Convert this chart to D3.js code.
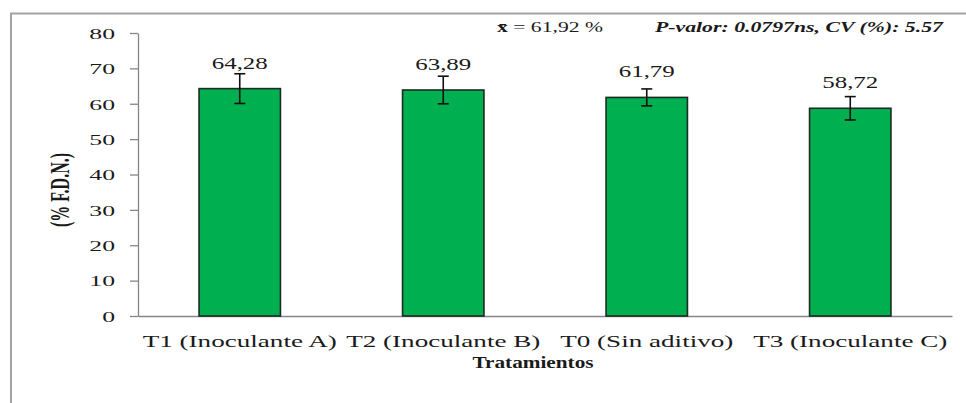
<!DOCTYPE html>
<html>
<head>
<meta charset="utf-8">
<script src="https://cdn.jsdelivr.net/npm/d3@7/dist/d3.min.js"></script>
<style>
  html, body { margin: 0; padding: 0; background: #fff; }
  svg { display: block; }
  text { font-family: "Liberation Serif", "Times New Roman", serif; fill: #1a1a1a; }
</style>
</head>
<body>
<svg id="chart" width="966" height="403"></svg>
<script>
// ---- data ----
const categories = ["T1 (Inoculante A)", "T2 (Inoculante B)", "T0 (Sin aditivo)", "T3 (Inoculante C)"];
const values = [64.28, 63.89, 61.79, 58.72];
const errors = [4.2, 3.9, 2.4, 3.3];
const valueLabels = ["64,28", "63,89", "61,79", "58,72"];
const yTicks = [0, 10, 20, 30, 40, 50, 60, 70, 80];
const yTitle = "(% F.D.N.)";
const xTitle = "Tratamientos";
const meanSymbol = "x\u0304";
const meanText = " = 61,92 %";
const statsText = "P-valor: 0.0797ns, CV (%): 5.57";

// ---- layout ----
const svg = d3.select("#chart");

const x = d3.scaleBand().domain(categories).range([138, 952]).paddingInner(0.6).paddingOuter(0.3);
const y = d3.scaleLinear().domain([0, 80]).range([316, 33]);

const rows = categories.map((c, i) => ({ c, v: values[i], e: errors[i], lab: valueLabels[i] }));

// outer frame (only left and top edges visible)
svg.append("path")
  .attr("d", "M11,403 L11,13.5 L966,13.5")
  .attr("fill", "none").attr("stroke", "#a3a3a3").attr("stroke-width", 2);

// y axis
const yAxis = svg.append("g").attr("transform", "translate(138,0)")
  .call(d3.axisLeft(y).tickValues(yTicks).tickSize(8).tickSizeOuter(0).tickFormat(d3.format("d")));
yAxis.select(".domain").attr("stroke", "#868686").attr("stroke-width", 1.3);
yAxis.selectAll(".tick line").attr("stroke", "#868686").attr("stroke-width", 1.3);
yAxis.selectAll(".tick text")
  .attr("x", 0).attr("dy", "0.34em")
  .attr("text-anchor", "end")
  .style("font-size", "15.5px").style("font-family", "'Liberation Serif', serif").attr("fill", "#1a1a1a")
  .attr("transform", "translate(-23,0) scale(1.66,1)");

// x axis
const xAxis = svg.append("g").attr("transform", "translate(0,316)")
  .call(d3.axisBottom(x).tickSize(0).tickSizeOuter(0));
xAxis.select(".domain").attr("stroke", "#868686").attr("stroke-width", 1.5);
xAxis.selectAll(".tick text")
  .attr("y", 0).attr("dy", 0)
  .style("font-size", "17.5px").style("font-family", "'Liberation Serif', serif").attr("fill", "#1a1a1a")
  .attr("text-anchor", "middle")
  .attr("transform", "translate(0,31) scale(1.55,1)");

// bars
svg.append("g").selectAll("rect").data(rows).join("rect")
  .attr("x", d => x(d.c))
  .attr("y", d => y(d.v))
  .attr("width", x.bandwidth())
  .attr("height", d => y(0) - y(d.v))
  .attr("fill", "#00b050")
  .attr("stroke", "#1d2b22").attr("stroke-width", 1.6);

// error bars
const eb = svg.append("g").selectAll("g").data(rows).join("g")
  .attr("stroke", "#111").attr("stroke-width", 1.6);
eb.append("line")
  .attr("x1", d => x(d.c) + x.bandwidth() / 2).attr("x2", d => x(d.c) + x.bandwidth() / 2)
  .attr("y1", d => y(d.v + d.e)).attr("y2", d => y(d.v - d.e));
eb.append("line")
  .attr("x1", d => x(d.c) + x.bandwidth() / 2 - 5.5).attr("x2", d => x(d.c) + x.bandwidth() / 2 + 5.5)
  .attr("y1", d => y(d.v + d.e)).attr("y2", d => y(d.v + d.e));
eb.append("line")
  .attr("x1", d => x(d.c) + x.bandwidth() / 2 - 5.5).attr("x2", d => x(d.c) + x.bandwidth() / 2 + 5.5)
  .attr("y1", d => y(d.v - d.e)).attr("y2", d => y(d.v - d.e));

// value labels
svg.append("g").selectAll("text").data(rows).join("text")
  .attr("text-anchor", "middle")
  .style("font-size", "17px")
  .attr("fill", "#333")
  .attr("transform", d => `translate(${x(d.c) + x.bandwidth() / 2},${y(d.v) - 20}) scale(1.47,1)`)
  .text(d => d.lab);

// axis titles
svg.append("text")
  .attr("text-anchor", "middle")
  .style("font-size", "17px").style("font-weight", "bold")
  .attr("transform", "translate(533,368) scale(1.25,1)")
  .text(xTitle);

svg.append("text")
  .attr("text-anchor", "middle")
  .attr("dy", "0.35em")
  .style("font-size", "16px").style("font-weight", "bold")
  .attr("transform", "translate(59,190) rotate(-90) scale(1,1.75)")
  .text(yTitle);

// annotations at top
function fitText(sel, left, baseline, width) {
  const w = sel.node().getComputedTextLength();
  sel.attr("transform", `translate(${left},${baseline}) scale(${width / w},1)`);
}
const mean = svg.append("text").style("font-size", "15px");
mean.append("tspan").style("font-weight", "bold").text(meanSymbol);
mean.append("tspan").text(meanText);
fitText(mean, 497, 32, 106);

const stats = svg.append("text")
  .style("font-size", "15px").style("font-weight", "bold").style("font-style", "italic")
  .text(statsText);
fitText(stats, 655, 32, 288);
</script>
</body>
</html>
